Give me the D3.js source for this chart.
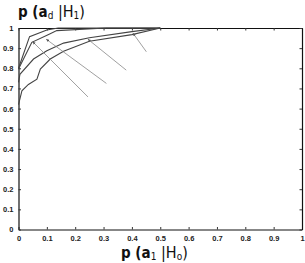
<!DOCTYPE html>
<html>
<head>
<meta charset="utf-8">
<script src="https://cdn.jsdelivr.net/npm/d3@7"></script>
<style>
  body { margin: 0; background: #fff; }
  svg { display: block; }
  .tick text { font-family: "Liberation Sans", Arial, sans-serif; font-size: 7.5px; font-weight: bold; fill: #222; }
  .ttl { font-family: "DejaVu Sans Condensed", "DejaVu Sans", sans-serif; fill: #111; }
</style>
</head>
<body>
<script>
// curves (x = p(a1|H0), y = p(ad|H1))
var curve1 = [[0, 0.80], [0.039, 0.957], [0.10, 0.99], [0.14, 1.0], [0.5, 1.0]];
var curve2 = [[0, 0.796], [0.047, 0.929], [0.11, 0.97], [0.135, 0.987], [0.31, 1.0], [0.5, 1.0]];
var curve3 = [[0, 0.73], [0.005, 0.77], [0.053, 0.846], [0.10, 0.887], [0.159, 0.925],
              [0.25, 0.952], [0.40, 0.982], [0.5, 1.0]];
var curve4 = [[0, 0.62], [0.012, 0.688], [0.035, 0.72], [0.065, 0.746], [0.077, 0.796],
              [0.112, 0.846], [0.159, 0.885], [0.25, 0.934], [0.40, 0.967], [0.5, 1.0]];
var curves = [curve1, curve2, curve3, curve4];

// annotation arrows: [tail, head] in data units
var arrows = [
  [[0.245, 0.658], [0.05, 0.932]],
  [[0.31, 0.725], [0.098, 0.944]],
  [[0.38, 0.791], [0.245, 0.944]],
  [[0.451, 0.882], [0.404, 0.974]]
];

var xTicks = [0, 0.1, 0.2, 0.3, 0.4, 0.5, 0.6, 0.7, 0.8, 0.9, 1];
var yTicks = [0, 0.1, 0.2, 0.3, 0.4, 0.5, 0.6, 0.7, 0.8, 0.9, 1];

var W = 305, H = 263;
var mLeft = 18.5, mRight = 302, mTop = 28, mBottom = 229.5;

var svg = d3.select(document.body).append("svg")
  .attr("width", W).attr("height", H);

var x = d3.scaleLinear().domain([0, 1]).range([mLeft, mRight]);
var y = d3.scaleLinear().domain([0, 1]).range([mBottom, mTop]);

var fmt = function(d) { return d === 0 || d === 1 ? String(d) : d.toFixed(1); };

// frame with inward ticks
svg.append("g").attr("transform", "translate(0," + mBottom + ")")
  .call(d3.axisBottom(x).tickValues(xTicks).tickFormat(fmt).tickSizeInner(-2.5).tickSizeOuter(0).tickPadding(6));
svg.append("g").attr("transform", "translate(" + mLeft + ",0)")
  .call(d3.axisLeft(y).tickValues(yTicks).tickFormat(fmt).tickSizeInner(-2.5).tickSizeOuter(0).tickPadding(5));
svg.append("g").attr("transform", "translate(0," + mTop + ")")
  .call(d3.axisTop(x).tickValues(xTicks).tickFormat("").tickSizeInner(-2.5).tickSizeOuter(0));
svg.append("g").attr("transform", "translate(" + mRight + ",0)")
  .call(d3.axisRight(y).tickValues(yTicks).tickFormat("").tickSizeInner(-2.5).tickSizeOuter(0));

svg.selectAll(".domain").attr("stroke", "#111").attr("stroke-width", 1.2);
svg.selectAll(".tick line").attr("stroke", "#333");

// curves
var line = d3.line().x(function(d) { return x(d[0]); }).y(function(d) { return y(d[1]); });
svg.append("g").selectAll("path").data(curves).enter().append("path")
  .attr("d", line).attr("fill", "none").attr("stroke", "#444").attr("stroke-width", 1.1);

// arrows
svg.append("defs").append("marker")
  .attr("id", "ah").attr("viewBox", "0 0 10 10").attr("refX", 9).attr("refY", 5)
  .attr("markerWidth", 4).attr("markerHeight", 4).attr("orient", "auto")
  .append("path").attr("d", "M0,1L10,5L0,9Z").attr("fill", "#555");
svg.append("g").selectAll("line").data(arrows).enter().append("line")
  .attr("x1", function(d) { return x(d[0][0]); }).attr("y1", function(d) { return y(d[0][1]); })
  .attr("x2", function(d) { return x(d[1][0]); }).attr("y2", function(d) { return y(d[1][1]); })
  .attr("stroke", "#888").attr("stroke-width", 0.8).attr("marker-end", "url(#ah)");

// axis titles
function title(tx, ty, sub1, sub2) {
  var t = svg.append("text").attr("class", "ttl").attr("x", tx).attr("y", ty);
  t.append("tspan").text("p (a").attr("font-size", 15).attr("font-weight", "bold");
  t.append("tspan").text(sub1).attr("font-size", 10).attr("dy", 2);
  t.append("tspan").text(" |").attr("font-size", 16).attr("dy", -2);
  t.append("tspan").text("H").attr("font-size", 16);
  t.append("tspan").text(sub2).attr("font-size", 10).attr("dy", 1.5);
  t.append("tspan").text(")").attr("font-size", 16).attr("dy", -1.5);
}
title(18, 17, "d", "1");
title(121, 258, "1", "o");
</script>
</body>
</html>
